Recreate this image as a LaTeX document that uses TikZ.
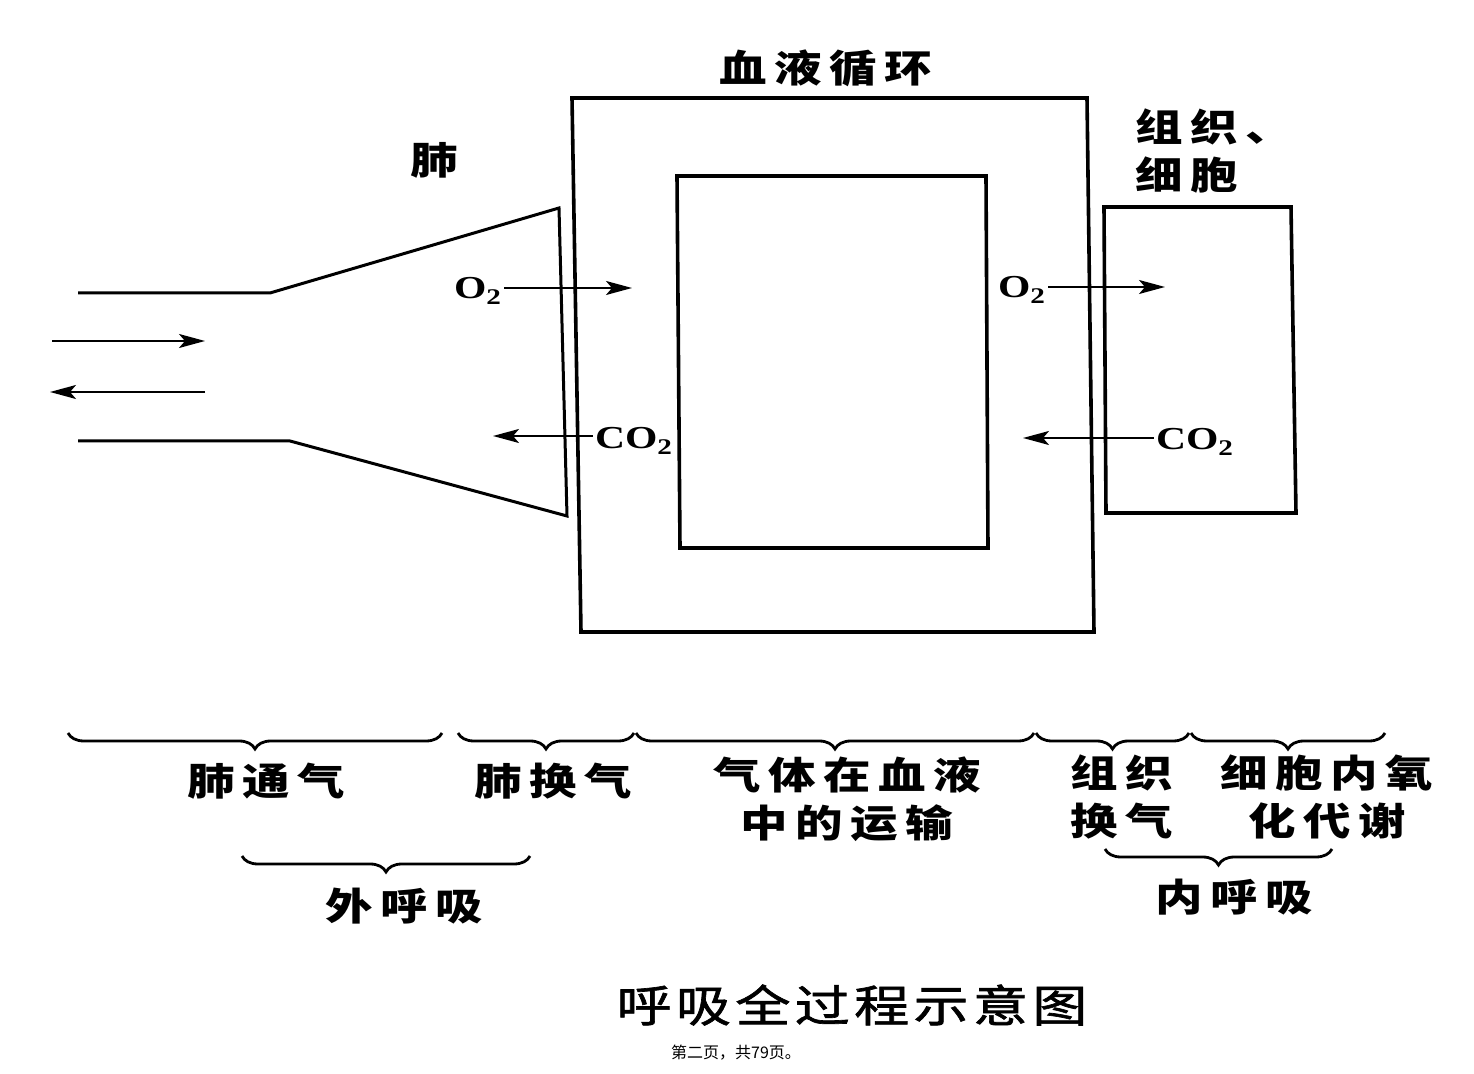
\documentclass[tikz,border=0pt]{standalone}
\usepackage{fontspec}
\newfontfamily\cjk[LetterSpace=20,FakeStretch=1.25]{Noto Sans CJK SC}
\newfontfamily\cjktitle[LetterSpace=10,FakeStretch=1.25,FakeBold=1.5]{Noto Sans CJK SC}
\newfontfamily\cjkfoot{Noto Sans CJK SC}
\newfontfamily\gasfont[FakeStretch=1.3]{Liberation Serif}
\usetikzlibrary{arrows.meta,decorations.pathreplacing}

\tikzset{every picture/.style={line width=1.5pt}}
\tikzset{
	wall/.style={line width=1.8pt},
	tube/.style={line width=1.5pt},
	flow/.style={line width=1pt,-{Stealth[length=13pt,width=7pt,inset=3pt]}},
	gas/.style={font=\gasfont\bfseries\fontsize{16}{16}\selectfont,inner sep=0.5pt},
	tag/.style={font=\cjk\bfseries\fontsize{19}{24}\selectfont,align=center,inner sep=0pt},
	span/.style={decorate,decoration={brace,mirror,amplitude=8pt},line width=1.4pt}}

\begin{document}
\begin{tikzpicture}[x=0.5pt,y=0.5pt,yscale=-1,xscale=1]
	\useasboundingbox[fill=white] (0,0) rectangle (1474,1074);

	%Shape: lung funnel
	\draw [tube] (78,293) -- (270,293) -- (559,208) -- (567,516) -- (290,441) -- (78,441) ;
	%Shape: blood, outer
	\draw [wall] (572,98) -- (1087,98) -- (1094,632) -- (581,632) -- cycle ;
	%Shape: blood, inner
	\draw [wall] (677,176) -- (986,176) -- (988,548) -- (680,548) -- cycle ;
	%Shape: tissue
	\draw [wall] (1104,207) -- (1291,207) -- (1296,513) -- (1106,513) -- cycle ;

	% ventilation arrows
	\coordinate (inhaleA) at (52,341);
	\coordinate (inhaleB) at (205,341);
	\coordinate (exhaleA) at (205,392);
	\coordinate (exhaleB) at (50,392);
	\draw [flow] (inhaleA) -- (inhaleB);
	\draw [flow] (exhaleA) -- (exhaleB);

	% gas exchange
	\node [gas] (o2lung) at (478,291) {O\textsubscript{2}};
	\coordinate (o2lungtip) at (632,288);
	\draw [flow] (o2lung.east|-o2lungtip) -- (o2lungtip);
	\node [gas] (co2lung) at (634,441) {CO\textsubscript{2}};
	\coordinate (co2lungtip) at (493,436);
	\draw [flow] (co2lung.west|-co2lungtip) -- (co2lungtip);
	\node [gas] (o2cell) at (1022,290) {O\textsubscript{2}};
	\coordinate (o2celltip) at (1165,287);
	\draw [flow] (o2cell.east|-o2celltip) -- (o2celltip);
	\node [gas] (co2cell) at (1195,442) {CO\textsubscript{2}};
	\coordinate (co2celltip) at (1023,438);
	\draw [flow] (co2cell.west|-co2celltip) -- (co2celltip);

	% Text Node
	\node [tag] (blood) at (826,68) {血液循环};
	\node [tag] (lung) at (434,160) {肺};
	\node [tag,anchor=west,align=left] (cell) at (1134,151) {组织、\\细胞};

	% braces
	\coordinate (ventW) at (68,733);
	\coordinate (ventE) at (442,733);
	\coordinate (lexW) at (458,733);
	\coordinate (lexE) at (634,733);
	\coordinate (transW) at (636,733);
	\coordinate (transE) at (1034,733);
	\coordinate (texW) at (1036,733);
	\coordinate (texE) at (1189,733);
	\coordinate (metW) at (1191,733);
	\coordinate (metE) at (1385,733);
	\coordinate (extW) at (242,856);
	\coordinate (extE) at (530,856);
	\coordinate (intW) at (1105,849);
	\coordinate (intE) at (1332,849);
	\draw [span] (ventW) -- (ventE);
	\draw [span] (lexW) -- (lexE);
	\draw [span] (transW) -- (transE);
	\draw [span] (texW) -- (texE);
	\draw [span] (metW) -- (metE);
	\draw [span] (extW) -- (extE);
	\draw [span] (intW) -- (intE);

	% Text Node
	\node [tag] (vent) at (266,781) {肺通气};
	\node [tag] (lex) at (553,781) {肺换气};
	\node [tag] (trans) at (847,799) {气体在血液\\中的运输};
	\node [tag] (tex) at (1122,797) {组织\\换气};
	\node [tag] (met) at (1327,797) {细胞内氧\\化代谢};
	\node [tag] (ext) at (404,906) {外呼吸};
	\node [tag] (int) at (1234,897) {内呼吸};

	% Text Node
	\node [font=\cjktitle\fontsize{22}{22}\selectfont,inner sep=0pt] (caption) at (852,1005) {呼吸全过程示意图};
	\node [font=\cjkfoot\fontsize{8}{8}\selectfont,inner sep=0pt] (page) at (736,1053) {第二页，共79页。};

\end{tikzpicture}
\end{document}
